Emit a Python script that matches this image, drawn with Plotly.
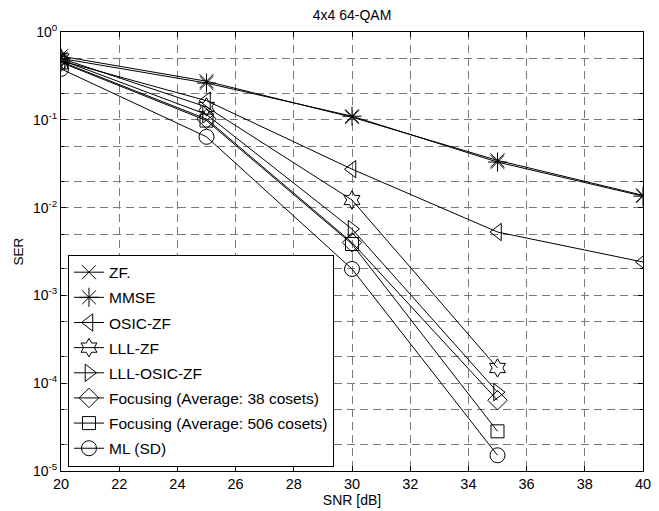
import plotly.graph_objects as go

snr = [20, 25, 30, 35, 40]
snr_short = [20, 25, 30, 35]

names = ["ZF.", "MMSE", "OSIC-ZF", "LLL-ZF", "LLL-OSIC-ZF",
         "Focusing (Average: 38 cosets)", "Focusing (Average: 506 cosets)", "ML (SD)"]

ser_zf = [0.53, 0.275, 0.107, 0.0345, 0.0138]
ser_mmse = [0.50, 0.262, 0.110, 0.0330, 0.0135]
ser_osic = [0.47, 0.165, 0.0274, 0.00527, 0.0024]
ser_lllzf = [0.50, 0.140, 0.0122, 0.000149]
ser_llloszf = [0.48, 0.115, 0.0057, 0.000079]
ser_foc38 = [0.46, 0.102, 0.0040, 0.000064]
ser_foc506 = [0.45, 0.098, 0.00385, 0.0000283]
ser_ml = [0.38, 0.064, 0.0020, 0.0000151]

xs = [snr, snr, snr, snr_short, snr_short, snr_short, snr_short, snr_short]
ys = [ser_zf, ser_mmse, ser_osic, ser_lllzf, ser_llloszf, ser_foc38, ser_foc506, ser_ml]
symbols = ["x-thin-open", "asterisk-open", "triangle-left-open", "hexagram-open",
           "triangle-right-open", "diamond-open", "square-open", "circle-open"]
sizes = [14, 16, 15, 14, 15, 15, 13, 15]

ytick_vals = [1, 0.1, 0.01, 0.001, 0.0001, 0.00001]
ytick_text = ["10<sup>0</sup>", "10<sup>-1</sup>", "10<sup>-2</sup>",
              "10<sup>-3</sup>", "10<sup>-4</sup>", "10<sup>-5</sup>"]
xtick_vals = [20, 22, 24, 26, 28, 30, 32, 34, 36, 38, 40]

fig = go.Figure()
for i in range(len(names)):
    fig.add_trace(go.Scatter(
        x=xs[i], y=ys[i], name=names[i], mode="lines+markers",
        line=dict(color="black", width=1),
        marker=dict(symbol=symbols[i], size=sizes[i], color="black",
                    line=dict(color="black", width=1)),
        legendgroup=f"g{i}",
    ))

grid_dash = "8px,5px"

fig.update_layout(
    width=659, height=511,
    margin=dict(l=61, r=8, t=32, b=39),
    paper_bgcolor="white", plot_bgcolor="white",
    font=dict(family="Liberation Sans, Arial, sans-serif", size=13, color="black"),
    title=dict(text="4x4 64-QAM", x=0.5, xref="paper", xanchor="center",
               y=1 - 15 / 511, yanchor="middle", font=dict(size=14)),
    showlegend=True,
    legend=dict(x=0.012, y=0.01, xanchor="left", yanchor="bottom",
                bgcolor="white", bordercolor="black", borderwidth=1,
                font=dict(size=15.5), tracegroupgap=2, itemwidth=30),
)

fig.update_xaxes(
    range=[20, 40], tickvals=xtick_vals, ticklabeloverflow="allow",
    showgrid=True, gridcolor="#7a7a7a", griddash=grid_dash, gridwidth=1,
    ticks="inside", ticklen=5, tickcolor="black",
    showline=True, linecolor="black", linewidth=1, mirror="ticks",
    zeroline=False, tickfont=dict(size=14.5),
    title=dict(text="SNR [dB]", font=dict(size=14), standoff=1),
)
fig.update_yaxes(
    type="log", range=[-5, 0], tickvals=ytick_vals, ticktext=ytick_text,
    ticklabeloverflow="allow",
    showgrid=True, gridcolor="#7a7a7a", griddash=grid_dash, gridwidth=1,
    ticks="inside", ticklen=5, tickcolor="black",
    minor=dict(ticks="inside", ticklen=3, tickcolor="black",
               showgrid=True, gridcolor="#7a7a7a", griddash=grid_dash, gridwidth=1),
    showline=True, linecolor="black", linewidth=1, mirror="ticks",
    zeroline=False, tickfont=dict(size=14),
    title=dict(text="SER", font=dict(size=13.5), standoff=6),
)

fig.write_html(
    "out.html",
    config=dict(displayModeBar=False),
    post_script="document.body.style.margin='0';document.body.style.overflow='hidden';"
                "document.documentElement.style.overflow='hidden';",
)
